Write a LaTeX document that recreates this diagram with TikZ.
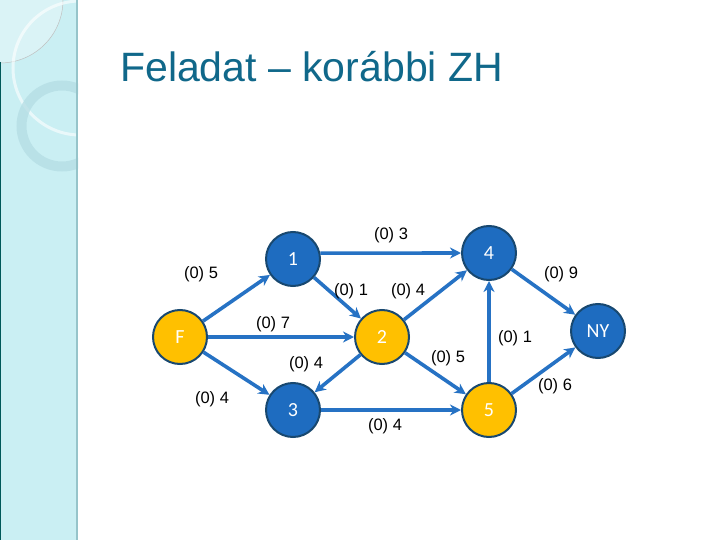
\documentclass[tikz,border=0pt]{standalone}
\usepackage{fontspec}
\setmainfont{Liberation Sans}
\newfontfamily\nodefont{Carlito}
\usepackage{xcolor,tikz}
\usetikzlibrary{arrows.meta,positioning}
\definecolor{barcyan}{RGB}{202,239,243}
\definecolor{barline}{RGB}{150,196,202}
\definecolor{ringcol}{RGB}{180,221,228}
\definecolor{titleblue}{RGB}{16,104,138}
\definecolor{nodeblue}{RGB}{30,108,192}
\definecolor{nodeyellow}{RGB}{255,192,0}
\definecolor{rimblue}{RGB}{24,72,112}
\definecolor{arrowblue}{RGB}{38,114,196}
\tikzset{vertex/.style={circle,draw=rimblue,line width=2pt,minimum size=54pt,inner sep=0pt,
    text=white,font=\nodefont\fontsize{20}{24}\selectfont},
  bluev/.style={vertex,fill=nodeblue},
  yellowv/.style={vertex,fill=nodeyellow},
  flow/.style={-{Stealth[length=11pt,width=11pt,inset=3.5pt]},line width=3.6pt,draw=arrowblue},
  wt/.style={inner sep=0pt,font=\fontsize{16.5}{19}\selectfont}}

\begin{document}
\begin{tikzpicture}[x=1pt,y=-1pt]
\useasboundingbox (0,0) rectangle (720,540);
\fill[white] (0,0) rectangle (720,540);
% sidebar
\begin{scope}
\clip (0,0) rectangle (78,540);
\fill[barcyan] (0,0) rectangle (78,540);
\fill[white,opacity=0.3] (0,0) circle (63);
\draw[gray!50,line width=0.5pt] (0,0) circle (63);
\draw[white,opacity=0.6,line width=3pt] (80,68) circle (67);
\draw[ringcol,opacity=0.75,line width=10pt] (62,126) circle (40.5);
\end{scope}
\draw[barline,line width=2.5pt] (77,0) -- (77,540);
\draw[teal!70!black,line width=1.2pt] (0.6,62) -- (0.6,540);
% title
\node[anchor=base west,inner sep=0pt,text=titleblue,font=\fontsize{41}{48}\selectfont]
  (title) at (120,82) {Feladat -- korábbi ZH};
% graph
\node[yellowv] (F) at (180,337) {F};
\node[bluev] (n1) at (293,259) {1};
\node[yellowv] (n2) at (382,337) {2};
\node[bluev] (n3) at (293,410) {3};
\node[bluev] (n4) at (489,253) {4};
\node[yellowv] (n5) at (489,410) {5};
\node[bluev] (NY) at (598,331) {NY};
\draw[flow] (F)--(n1);
\draw[flow] (F)--(n2);
\draw[flow] (F)--(n3);
\draw[flow] (n1.12)--(n4.west);
\draw[flow] (n1)--(n2);
\draw[flow] (n2)--(n4);
\draw[flow] (n2)--(n3);
\draw[flow] (n2)--(n5);
\draw[flow] (n3)--(n5);
\draw[flow] (n5)--(n4);
\draw[flow] (n4)--(NY);
\draw[flow] (n5)--(NY);
% weights
\node[wt] (w14) at (391,235) {(0) 3};
\node[wt] (wF1) at (201,274) {(0) 5};
\node[wt] (w12) at (351,291) {(0) 1};
\node[wt] (w24) at (408,291) {(0) 4};
\node[wt] (wF2) at (273,324) {(0) 7};
\node[wt] (w23) at (306,364) {(0) 4};
\node[wt] (wF3) at (212,399) {(0) 4};
\node[wt] (w4N) at (561,274) {(0) 9};
\node[wt] (w54) at (515,338) {(0) 1};
\node[wt] (w25) at (448,358) {(0) 5};
\node[wt] (w5N) at (555,386) {(0) 6};
\node[wt] (w35) at (385,426) {(0) 4};
\end{tikzpicture}
\end{document}
